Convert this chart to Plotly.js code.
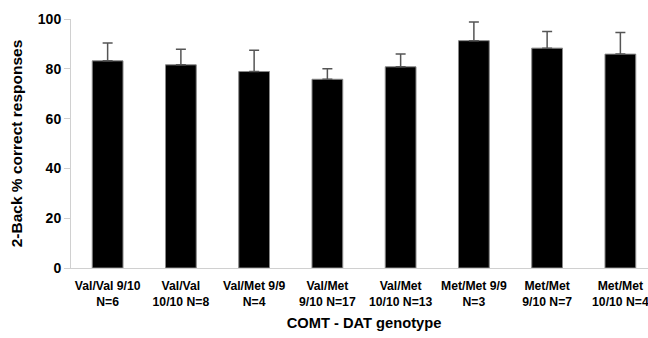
<!DOCTYPE html>
<html><head><meta charset="utf-8">
<script src="https://cdn.plot.ly/plotly-3.0.1.min.js"></script>
<style>html,body{margin:0;padding:0;background:#fff;overflow:hidden;width:648px;height:338px}#c{width:657px;height:338px}</style>
</head><body><div id="c"></div>
<script>
const categories = ["Val/Val 9/10<br>N=6","Val/Val<br>10/10 N=8","Val/Met 9/9<br>N=4","Val/Met<br>9/10 N=17","Val/Met<br>10/10 N=13","Met/Met 9/9<br>N=3","Met/Met<br>9/10 N=7","Met/Met<br>10/10 N=4"];
const means = [83.2, 81.6, 78.9, 75.8, 80.8, 91.3, 88.3, 85.9];
const errors = [7.2, 6.3, 8.5, 4.2, 5.1, 7.5, 6.7, 8.7];
const yTicks = [0, 20, 40, 60, 80, 100];

const trace = {
  type: 'bar',
  x: categories.map((_, i) => i),
  y: means,
  marker: {color: '#000', line: {color: '#888', width: 1}},
  error_y: {type: 'data', array: errors, symmetric: false, arrayminus: errors.map(() => 0), color: '#555', thickness: 1.5, width: 5},
  hoverinfo: 'none'
};
const layout = {
  width: 657, height: 338,
  margin: {l: 71, r: 0, t: 19, b: 70},
  paper_bgcolor: '#fff', plot_bgcolor: '#fff',
  showlegend: false,
  bargap: 0.58,
  font: {family: 'Liberation Sans, Arial, sans-serif', color: '#000'},
  xaxis: {
    range: [-0.5, 7.5], tickmode: 'array', tickvals: categories.map((_, i) => i), ticktext: categories.map(c => '<b>' + c + '</b>'),
    showline: true, linecolor: '#d0d0d0', linewidth: 1, ticks: '', showgrid: false, zeroline: false,
    tickfont: {size: 12.2}, tickangle: 0, ticklabelstandoff: 6,
    title: {text: '<b>COMT - DAT genotype</b>', font: {size: 14.7}, standoff: 10}
  },
  yaxis: {
    range: [0, 100], tickmode: 'array', tickvals: yTicks, ticktext: yTicks.map(t => '<b>' + t + '</b>'),
    showline: true, linecolor: '#d0d0d0', linewidth: 1, ticks: 'outside', ticklen: 6, tickcolor: '#d0d0d0',
    showgrid: false, zeroline: false, tickfont: {size: 14},
    title: {text: '<b>2-Back % correct responses</b>', font: {size: 15.5}, standoff: 11}
  }
};
Plotly.newPlot('c', [trace], layout, {staticPlot: true});
</script></body></html>
